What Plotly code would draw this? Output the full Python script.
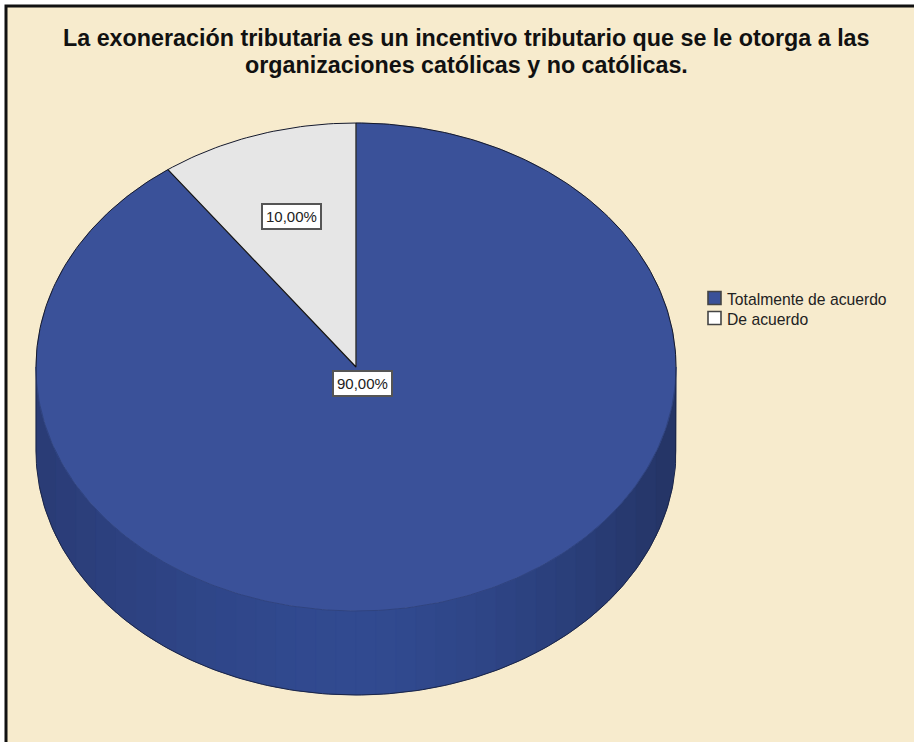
import numpy as np
import plotly.graph_objects as go

# Survey shares, in the clockwise drawing order starting at 12 o'clock
categories = ["Totalmente de acuerdo", "De acuerdo"]
shares = [90.0, 10.0]
value_labels = ["90,00%", "10,00%"]

title_lines = [
    "La exoneración tributaria es un incentivo tributario que se le otorga a las",
    "organizaciones católicas y no católicas.",
]

# Styling and pie geometry, in page pixels
WIDTH, HEIGHT = 914, 742
BACKGROUND = "#f7ebcd"
FACE_COLORS = {"De acuerdo": "#e6e6e6", "Totalmente de acuerdo": "#3a5199"}
SWATCH_COLORS = {"De acuerdo": "#ffffff", "Totalmente de acuerdo": "#3a5199"}
CX, CY, RX, RY, DEPTH = 356, 367, 320, 244, 84
LABEL_RADIUS = {"De acuerdo": 0.65, "Totalmente de acuerdo": 0.07}
FONT = "Liberation Sans"


def rim(angles):
    """Point on the top ellipse for angles measured clockwise from 12 o'clock."""
    rad = np.radians(angles)
    return CX + RX * np.sin(rad), CY - RY * np.cos(rad)


def mix(a, b, t):
    a = np.array([int(a[i:i + 2], 16) for i in (1, 3, 5)])
    b = np.array([int(b[i:i + 2], 16) for i in (1, 3, 5)])
    r, g, bl = np.round(a + (b - a) * t).astype(int)
    return f"rgb({r},{g},{bl})"


fig = go.Figure()

# Side wall: a solid base, then vertical strips darkening towards both ends
arc = np.linspace(90, 270, 181)
xs, ys = rim(arc)
fig.add_trace(go.Scatter(
    x=np.r_[xs, xs[::-1], xs[0]], y=np.r_[ys, ys[::-1] + DEPTH, ys[0]],
    mode="lines", fill="toself", fillcolor="#2e4585",
    line=dict(width=0), hoverinfo="skip", showlegend=False,
))
strip_x = np.linspace(CX - RX, CX + RX, 33)
for x0, x1 in zip(strip_x[:-1], strip_x[1:]):
    px = np.linspace(x0, x1, 6)
    u = (px - CX) / RX
    top = CY + RY * np.sqrt(np.clip(1 - u ** 2, 0, 1))
    t = abs((x0 + x1) / 2 - CX) / RX
    edge = "#243465" if x0 > CX else "#2a3b75"
    color = mix("#314a90", edge, t ** 1.6)
    fig.add_trace(go.Scatter(
        x=np.r_[px, px[::-1], px[0]], y=np.r_[top, top[::-1] + DEPTH, top[0]],
        mode="lines", fill="toself", fillcolor=color,
        line=dict(color=color, width=0.4), hoverinfo="skip", showlegend=False,
    ))

# Top face: one wedge per category, drawn clockwise from 12 o'clock
start = 0.0
mid_angles = {}
total = sum(shares)
for name, share in zip(categories, shares):
    sweep = 360 * share / total
    arc = np.linspace(start, start + sweep, 241)
    xs, ys = rim(arc)
    fig.add_trace(go.Scatter(
        x=np.r_[CX, xs, CX], y=np.r_[CY, ys, CY],
        mode="lines", fill="toself", fillcolor=FACE_COLORS[name],
        line=dict(color=FACE_COLORS[name], width=0.5),
        name=name, hoverinfo="name", showlegend=False,
    ))
    mid_angles[name] = start + sweep / 2
    start += sweep

# Outlines: dark back rim and spokes, soft front rim, dark silhouette of the wall
arc = np.linspace(-90, 90, 181)
xs, ys = rim(arc)
fig.add_trace(go.Scatter(x=xs, y=ys, mode="lines", line=dict(color="#15192b", width=1),
                         hoverinfo="skip", showlegend=False))
arc = np.linspace(90, 270, 181)
xs, ys = rim(arc)
fig.add_trace(go.Scatter(x=xs, y=ys, mode="lines", line=dict(color="#2f437f", width=1),
                         hoverinfo="skip", showlegend=False))
fig.add_trace(go.Scatter(
    x=np.r_[xs[0], xs, xs[-1]], y=np.r_[ys[0], ys + DEPTH, ys[-1]],
    mode="lines", line=dict(color="#1b2547", width=1), hoverinfo="skip", showlegend=False,
))
spoke_angle = 360 * shares[0] / total
sx, sy = rim(np.array([spoke_angle]))
tx, ty = rim(np.array([0.0]))
fig.add_trace(go.Scatter(x=[sx[0], CX, tx[0]], y=[sy[0], CY, ty[0]], mode="lines",
                         line=dict(color="#111111", width=1.2),
                         hoverinfo="skip", showlegend=False))

# Value labels in white boxes
annotations = []
for name, label in zip(categories, value_labels):
    r = LABEL_RADIUS[name]
    rad = np.radians(mid_angles[name])
    annotations.append(dict(
        x=CX + r * RX * np.sin(rad), y=CY - r * RY * np.cos(rad),
        xref="x", yref="y", text=label, showarrow=False,
        font=dict(family=FONT, size=15, color="#222222"),
        bgcolor="#ffffff", bordercolor="#555555", borderwidth=2, borderpad=3,
    ))

# Key on the right
fig.add_trace(go.Scatter(
    x=[714.5, 714.5], y=[298, 318],
    mode="markers", marker=dict(symbol="square", size=13,
                                color=[SWATCH_COLORS[n] for n in categories],
                                line=dict(color="#444444", width=1.6)),
    hoverinfo="skip", showlegend=False,
))
for name, y in zip(categories, [299, 319]):
    annotations.append(dict(
        x=725, y=y, xref="x", yref="y", xanchor="left", text=name, showarrow=False,
        font=dict(family=FONT, size=15.7, color="#222222"),
    ))

# Two-line heading
for line, y in zip(title_lines, [38, 65]):
    annotations.append(dict(
        x=466.5, y=y, xref="x", yref="y", text=line, showarrow=False,
        font=dict(family=FONT, size=23.3, color="#111111", weight=600),
    ))

fig.update_layout(
    width=WIDTH, height=HEIGHT,
    margin=dict(l=0, r=0, t=0, b=0),
    paper_bgcolor="#ffffff", plot_bgcolor="#ffffff",
    xaxis=dict(range=[0, WIDTH], visible=False, fixedrange=True),
    yaxis=dict(range=[HEIGHT, 0], visible=False, fixedrange=True),
    annotations=annotations,
    shapes=[dict(type="rect", layer="below", xref="x", yref="y",
                 x0=6, y0=6, x1=WIDTH + 10, y1=HEIGHT + 10,
                 fillcolor=BACKGROUND, line=dict(color="#111111", width=3))],
)

fig.write_html("out.html")
